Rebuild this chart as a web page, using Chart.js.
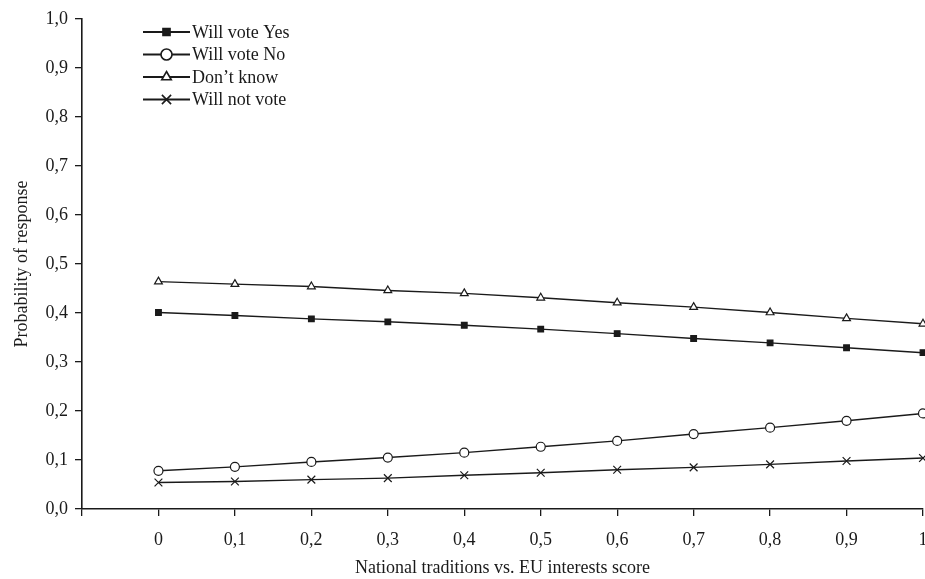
<!DOCTYPE html>
<html>
<head>
<meta charset="utf-8">
<script src="https://cdn.jsdelivr.net/npm/chart.js@4/dist/chart.umd.min.js"></script>
<style>
  html, body { margin: 0; padding: 0; background: #fff; }
  #wrap { width: 925px; height: 579px; }
</style>
</head>
<body>
<div id="wrap"><canvas id="chart1"></canvas></div>
<script>
// scores on the x axis
var scores = [0, 0.1, 0.2, 0.3, 0.4, 0.5, 0.6, 0.7, 0.8, 0.9, 1];

// probability of each response
var voteYes = [0.401, 0.395, 0.388, 0.382, 0.375, 0.367, 0.358, 0.348, 0.339, 0.329, 0.319];
var voteNo = [0.078, 0.086, 0.096, 0.105, 0.115, 0.127, 0.139, 0.153, 0.166, 0.180, 0.195];
var dontKnow = [0.464, 0.459, 0.454, 0.446, 0.440, 0.431, 0.421, 0.412, 0.401, 0.389, 0.378];
var notVote = [0.054, 0.056, 0.060, 0.063, 0.069, 0.074, 0.080, 0.085, 0.091, 0.098, 0.104];

var seriesNames = ['Will vote Yes', 'Will vote No', 'Don\u2019t know', 'Will not vote'];

var ink = '#1a1a1a';
var serif = "'Liberation Serif', 'DejaVu Serif', serif";

function toPoints(values) {
    return scores.map(function (x, i) { return { x: x, y: values[i] }; });
}

function commaNum(v) {
    if (Math.abs(v) < 1e-9) return '0';
    if (Math.abs(v - 1) < 1e-9) return '1';
    return v.toFixed(1).replace('.', ',');
}

// legend drawn inside the plot, line + marker like the original
var lineLegend = {
    id: 'lineLegend',
    afterDraw: function (chart) {
        var ctx = chart.ctx;
        var x0 = 143, x1 = 190, y = 32, step = 22.5;
        ctx.save();
        chart.data.datasets.forEach(function (ds, i) {
            var yy = y + i * step;
            ctx.strokeStyle = ink;
            ctx.lineWidth = 1.8;
            ctx.beginPath();
            ctx.moveTo(x0, yy);
            ctx.lineTo(x1, yy);
            ctx.stroke();
            ctx.fillStyle = ds.pointBackgroundColor;
            ctx.strokeStyle = ink;
            ctx.lineWidth = 1.6;
            Chart.helpers.drawPoint(ctx, {
                pointStyle: ds.pointStyle,
                radius: ds.pointRadius + 1,
                borderWidth: 1.6
            }, (x0 + x1) / 2, yy);
            ctx.fillStyle = ink;
            ctx.font = '18px ' + serif;
            ctx.textBaseline = 'middle';
            ctx.textAlign = 'left';
            ctx.fillText(ds.label, x1 + 2, yy + 1);
        });
        ctx.restore();
    }
};

function makeSet(label, values, style, fill, radius) {
    return {
        label: label,
        data: toPoints(values),
        borderColor: ink,
        borderWidth: 1.4,
        pointStyle: style,
        pointRadius: radius,
        pointBackgroundColor: fill,
        pointBorderColor: ink,
        pointBorderWidth: 1.2,
        showLine: true,
        clip: false,
        tension: 0
    };
}

var ctx = document.getElementById('chart1').getContext('2d');
new Chart(ctx, {
    type: 'scatter',
    data: {
        datasets: [
            makeSet(seriesNames[0], voteYes, 'rect', ink, 4),
            makeSet(seriesNames[1], voteNo, 'circle', '#ffffff', 4.5),
            makeSet(seriesNames[2], dontKnow, 'triangle', '#ffffff', 4.5),
            makeSet(seriesNames[3], notVote, 'crossRot', ink, 5.5)
        ]
    },
    options: {
        responsive: true,
        maintainAspectRatio: false,
        animation: false,
        layout: { autoPadding: false, padding: { top: 19, right: 2, left: 0, bottom: 0 } },
        plugins: {
            legend: { display: false },
            tooltip: { enabled: false }
        },
        scales: {
            x: {
                type: 'linear',
                min: -0.1,
                max: 1,
                afterFit: function (scale) {
                    scale.height = 70;
                    scale.paddingLeft = 0;
                    scale.paddingRight = 0;
                },
                afterBuildTicks: function (scale) {
                    var t = [];
                    for (var i = -1; i <= 10; i++) t.push({ value: i / 10 });
                    scale.ticks = t;
                },
                grid: { drawOnChartArea: false, drawTicks: true, tickLength: 7, color: ink, lineWidth: 1.3 },
                border: { display: true, color: ink, width: 1.6 },
                ticks: {
                    color: ink,
                    padding: 13,
                    maxRotation: 0,
                    font: { family: serif, size: 18 },
                    callback: function (v) { return v < -0.05 ? '' : commaNum(v); }
                },
                title: {
                    display: true,
                    text: 'National traditions vs. EU interests score',
                    color: ink,
                    font: { family: serif, size: 18 },
                    padding: { top: 0, bottom: 0 }
                }
            },
            y: {
                min: 0,
                max: 1,
                afterFit: function (scale) { scale.width = 82; },
                grid: { drawOnChartArea: false, drawTicks: true, tickLength: 7, color: ink, lineWidth: 1.3 },
                border: { display: true, color: ink, width: 1.6 },
                ticks: {
                    stepSize: 0.1,
                    color: ink,
                    padding: 7,
                    font: { family: serif, size: 18 },
                    callback: function (v) { return v.toFixed(1).replace('.', ','); }
                },
                title: {
                    display: true,
                    text: 'Probability of response',
                    color: ink,
                    font: { family: serif, size: 18 },
                    padding: { top: 11, bottom: 0 }
                }
            }
        }
    },
    plugins: [lineLegend]
});
</script>
</body>
</html>
